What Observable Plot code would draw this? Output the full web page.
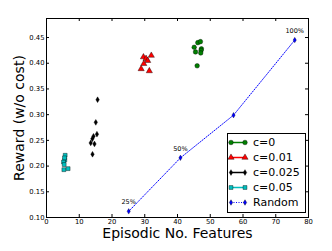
<!DOCTYPE html>
<html><head><meta charset="utf-8">
<script src="https://cdn.jsdelivr.net/npm/d3@7"></script>
<script src="https://cdn.jsdelivr.net/npm/@observablehq/plot@0.6"></script>
<style>
body{margin:0;background:#fff;}
#chart{position:relative;width:332px;height:251px;font-family:"DejaVu Sans",sans-serif;}
#legend{position:absolute;left:227px;top:133px;}
</style>
</head><body><div id="chart"></div>
<script>
// ---- data ----
const seriesNames = ["c=0", "c=0.01", "c=0.025", "c=0.05", "Random"];
const seriesColors = ["#008000", "#ff0000", "#000000", "#00bfbf", "#0000ff"];

const c0X = [46.2, 47.0, 45.1, 47.3, 47.2, 45.5, 47.1, 46.0];
const c0Y = [0.440, 0.442, 0.431, 0.428, 0.425, 0.422, 0.420, 0.395];

const c001X = [32.0, 29.6, 30.4, 30.9, 29.7, 28.9, 31.4];
const c001Y = [0.415, 0.412, 0.409, 0.405, 0.399, 0.389, 0.385];

const c0025X = [15.6, 15.05, 15.4, 14.35, 14.0, 13.5, 14.65, 14.05];
const c0025Y = [0.329, 0.285, 0.262, 0.258, 0.253, 0.245, 0.243, 0.223];

const c005X = [5.7, 5.6, 5.2, 5.4, 5.3, 6.6, 5.5];
const c005Y = [0.221, 0.212, 0.208, 0.203, 0.193, 0.195, 0.216];

const randomX = [25.1, 40.9, 57.1, 75.8];
const randomY = [0.112, 0.216, 0.299, 0.445];
const randomLabels = ["25%", "50%", "", "100%"];

const xTicks = [0, 10, 20, 30, 40, 50, 60, 70, 80];
const yTicks = [0.10, 0.15, 0.20, 0.25, 0.30, 0.35, 0.40, 0.45];
const xLabel = "Episodic No. Features";
const yLabel = "Reward (w/o cost)";

// ---- layout ----
const W = 332, H = 251, mL = 46, mR = 24, mT = 18, mB = 34;
const plotW = W - mL - mR, plotH = H - mT - mB;
const tickLen = 3;

const thinDiamond = {
  draw(ctx, size) {
    const r = Math.sqrt(size / Math.PI);
    const h = r * 1.25, w = r * 0.75;
    ctx.moveTo(0, -h); ctx.lineTo(w, 0); ctx.lineTo(0, h); ctx.lineTo(-w, 0); ctx.closePath();
  }
};
const symbols = ["circle", "triangle", thinDiamond, "square", thinDiamond];
const radii = [2.3, 2.3, 2.3, 2.2, 2.2];

const zip = (xs, ys) => xs.map((x, i) => ({x, y: ys[i]}));
const seriesData = [zip(c0X, c0Y), zip(c001X, c001Y), zip(c0025X, c0025Y), zip(c005X, c005Y)];
const randomData = randomX.map((x, i) => ({x, y: randomY[i], label: randomLabels[i]}));

const marks = [
  Plot.frame({stroke: "#000", strokeWidth: 1}),
  Plot.tickX(xTicks, {x: d => d, insetTop: plotH - tickLen, stroke: "#000"}),
  Plot.tickX(xTicks, {x: d => d, insetBottom: plotH - tickLen, stroke: "#000"}),
  Plot.tickY(yTicks, {y: d => d, insetRight: plotW - tickLen, stroke: "#000"}),
  Plot.tickY(yTicks, {y: d => d, insetLeft: plotW - tickLen, stroke: "#000"}),
  Plot.axisX({ticks: xTicks, tickSize: 0, tickPadding: 2, label: null, fontSize: 6.8, tickFormat: d3.format("d")}),
  Plot.axisY({ticks: yTicks, tickSize: 0, tickPadding: 2, label: null, fontSize: 6.8, tickFormat: d3.format(".2f")}),
  Plot.line(randomData, {x: "x", y: "y", stroke: seriesColors[4], strokeWidth: 1, strokeDasharray: "1,1.5"}),
  Plot.text(randomData, {x: "x", y: "y", text: "label", dy: -9, fontSize: 6.5, fill: "#000"}),
  ...seriesData.map((d, i) => Plot.dot(d, {x: "x", y: "y", symbol: symbols[i], r: radii[i], fill: seriesColors[i], stroke: "#000", strokeWidth: 0.4})),
  Plot.dot(randomData, {x: "x", y: "y", symbol: thinDiamond, r: radii[4], fill: seriesColors[4], stroke: "#000", strokeWidth: 0.3}),
  Plot.text([xLabel], {frameAnchor: "bottom", dy: 11, fontSize: 14, fill: "#000", lineAnchor: "top"}),
  Plot.text([yLabel], {frameAnchor: "left", dx: -27, rotate: -90, textAnchor: "middle", fontSize: 14, fill: "#000"})
];

const chart = Plot.plot({
  width: W, height: H,
  marginLeft: mL, marginRight: mR, marginTop: mT, marginBottom: mB,
  style: {fontFamily: "DejaVu Sans", background: "#fff", color: "#000", overflow: "visible"},
  x: {domain: [0, 80]},
  y: {domain: [0.10, 0.487]},
  marks
});
document.getElementById("chart").appendChild(chart);

// ---- legend ----
const lw = 78, lh = 79, rowH = 15;
const leg = d3.select("#chart").append("svg").attr("id", "legend")
  .attr("width", lw + 1).attr("height", lh + 1);
leg.append("rect").attr("x", 0.5).attr("y", 0.5).attr("width", lw).attr("height", lh)
  .attr("fill", "#fff").attr("stroke", "#000").attr("stroke-width", 1);
seriesNames.forEach((name, i) => {
  const cy = 9.5 + i * rowH;
  const g = leg.append("g");
  g.append("line").attr("x1", 4).attr("x2", 18).attr("y1", cy).attr("y2", cy)
    .attr("stroke", seriesColors[i]).attr("stroke-width", i === 4 ? 1 : 1.5)
    .attr("stroke-dasharray", i === 4 ? "1,1.5" : null);
  const sym = typeof symbols[i] === "string"
    ? d3.symbol(({circle: d3.symbolCircle, triangle: d3.symbolTriangle, square: d3.symbolSquare})[symbols[i]], Math.PI * radii[i] * radii[i])
    : d3.symbol(symbols[i], Math.PI * radii[i] * radii[i]);
  [4, 18].forEach(px => {
    g.append("path").attr("d", sym()).attr("transform", `translate(${px},${cy})`)
      .attr("fill", seriesColors[i]).attr("stroke", "#000").attr("stroke-width", 0.4);
  });
  g.append("text").attr("x", 26).attr("y", cy).attr("dy", "0.35em")
    .attr("font-size", 11).attr("font-family", "DejaVu Sans").text(name);
});
</script></body></html>
